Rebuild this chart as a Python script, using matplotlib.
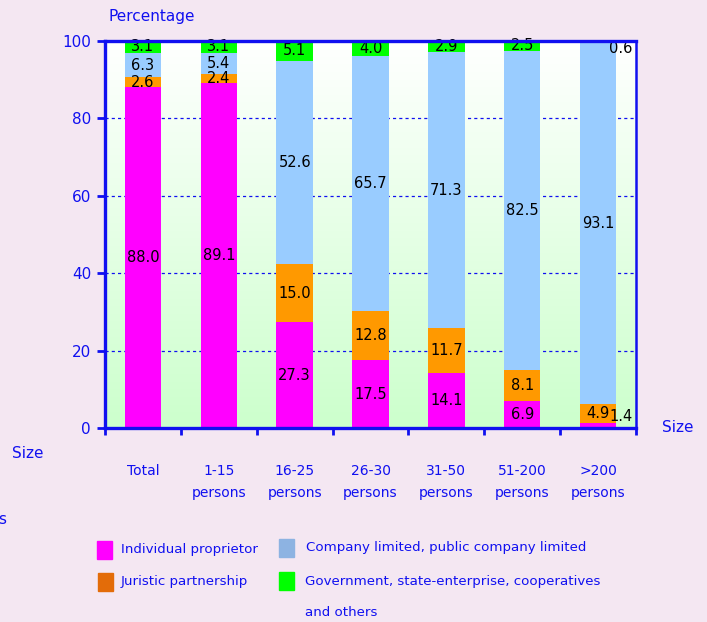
import numpy as np
import matplotlib
matplotlib.use("Agg")
import matplotlib.pyplot as plt
from matplotlib.colors import LinearSegmentedColormap
from matplotlib.patches import Rectangle

# Datos
categorias = ["Total", "1-15\npersons", "16-25\npersons", "26-30\npersons",
              "31-50\npersons", "51-200\npersons", ">200\npersons"]
individual = [88.0, 89.1, 27.3, 17.5, 14.1, 6.9, 1.4]
juristic = [2.6, 2.4, 15.0, 12.8, 11.7, 8.1, 4.9]
company = [6.3, 5.4, 52.6, 65.7, 71.3, 82.5, 93.1]
government = [3.1, 3.1, 5.1, 4.0, 2.9, 2.5, 0.6]

azul = "#1010F0"
fondo = "#F4E7F2"
plt.rcParams["font.family"] = ["DejaVu Sans"]

fig = plt.figure(figsize=(7.07, 6.22), dpi=100, facecolor=fondo)
ax = fig.add_axes([105 / 707, 1 - 428 / 622, 531 / 707, 387 / 622])
ax.set_facecolor("white")

x = np.arange(len(categorias))
ax.set_xlim(-0.5, 6.5)
ax.set_ylim(0, 100)

# fondo degradado blanco -> verde claro
cmap = LinearSegmentedColormap.from_list("g", ["#CCFFCC", "#FFFFFF"])
grad = np.linspace(0, 1, 256).reshape(-1, 1)
ax.imshow(grad, cmap=cmap, aspect="auto", extent=[-0.5, 6.5, 0, 100],
          origin="lower", zorder=0)

# rejilla
for yv in [20, 40, 60, 80]:
    ax.axhline(yv, color=azul, lw=0.9, ls=(0, (2.5, 2.5)), zorder=1)

ancho = 0.48
series = [individual, juristic, company, government]
colores = ["#FF00FF", "#FF9900", "#99CCFF", "#00FF00"]
base = np.zeros(len(x))
for vals, col in zip(series, colores):
    ax.bar(x, vals, ancho, bottom=base, color=col, zorder=2)
    for i, v in enumerate(vals):
        yc = base[i] + v / 2
        xc = x[i]
        if i == 6 and v < 2:
            xc = x[i] + 0.3
            yc = 3.0 if vals is individual else 98.0
        ax.text(xc, yc, f"{v:.1f}", ha="center", va="center", fontsize=10.5,
                color="black", zorder=3)
    base += np.array(vals)

# ejes
for s in ["left", "bottom", "top"]:
    ax.spines[s].set_color(azul)
    ax.spines[s].set_linewidth(2.4)
ax.spines["right"].set_color(azul)
ax.spines["right"].set_linewidth(1.8)
for s in ax.spines.values():
    s.set_zorder(5)

ax.set_yticks([0, 20, 40, 60, 80, 100])
ax.tick_params(axis="y", colors=azul, labelsize=11, length=6, width=2,
               labelcolor=azul, pad=4)
ax.set_xticks(x)
ax.set_xticklabels(categorias, color=azul, fontsize=10, linespacing=1.75)
ax.tick_params(axis="x", length=0, pad=26)
ax.set_xticks(np.arange(-0.5, 7, 1), minor=True)
ax.tick_params(axis="x", which="minor", length=5, width=2, color=azul)
for lab in ax.get_xticklabels():
    lab.set_verticalalignment("top")

fig.text(108 / 707, 1 - 16 / 622, "Percentage", color=azul, fontsize=11,
         va="center", ha="left")
fig.text(12 / 707, 1 - 453 / 622, "Size", color=azul, fontsize=11,
         va="center", ha="left")
fig.text(662 / 707, 1 - 427 / 622, "Size", color=azul, fontsize=11,
         va="center", ha="left")
fig.text(-2 / 707, 1 - 520 / 622, "s", color=azul, fontsize=11,
         va="center", ha="left")

# leyenda manual
leyenda = [
    (97, 541, "#FF00FF", 121, 549, "Individual proprietor"),
    (98, 573, "#E36C09", 121, 581, "Juristic partnership"),
    (279, 539, "#8DB3E2", 306, 548, "Company limited, public company limited"),
    (279, 572, "#00FF00", 305, 581, "Government, state-enterprise, cooperatives"),
]
for rx, ry, col, tx, ty, txt in leyenda:
    fig.patches.append(Rectangle((rx / 707, 1 - (ry + 18) / 622), 15 / 707, 18 / 622,
                                 transform=fig.transFigure, color=col))
    fig.text(tx / 707, 1 - ty / 622, txt, color=azul, fontsize=9.6,
             va="center", ha="left")
fig.text(305 / 707, 1 - 613 / 622, "and others", color=azul, fontsize=9.6,
         va="center", ha="left")

fig.savefig("out.png", dpi=100, facecolor=fondo)
